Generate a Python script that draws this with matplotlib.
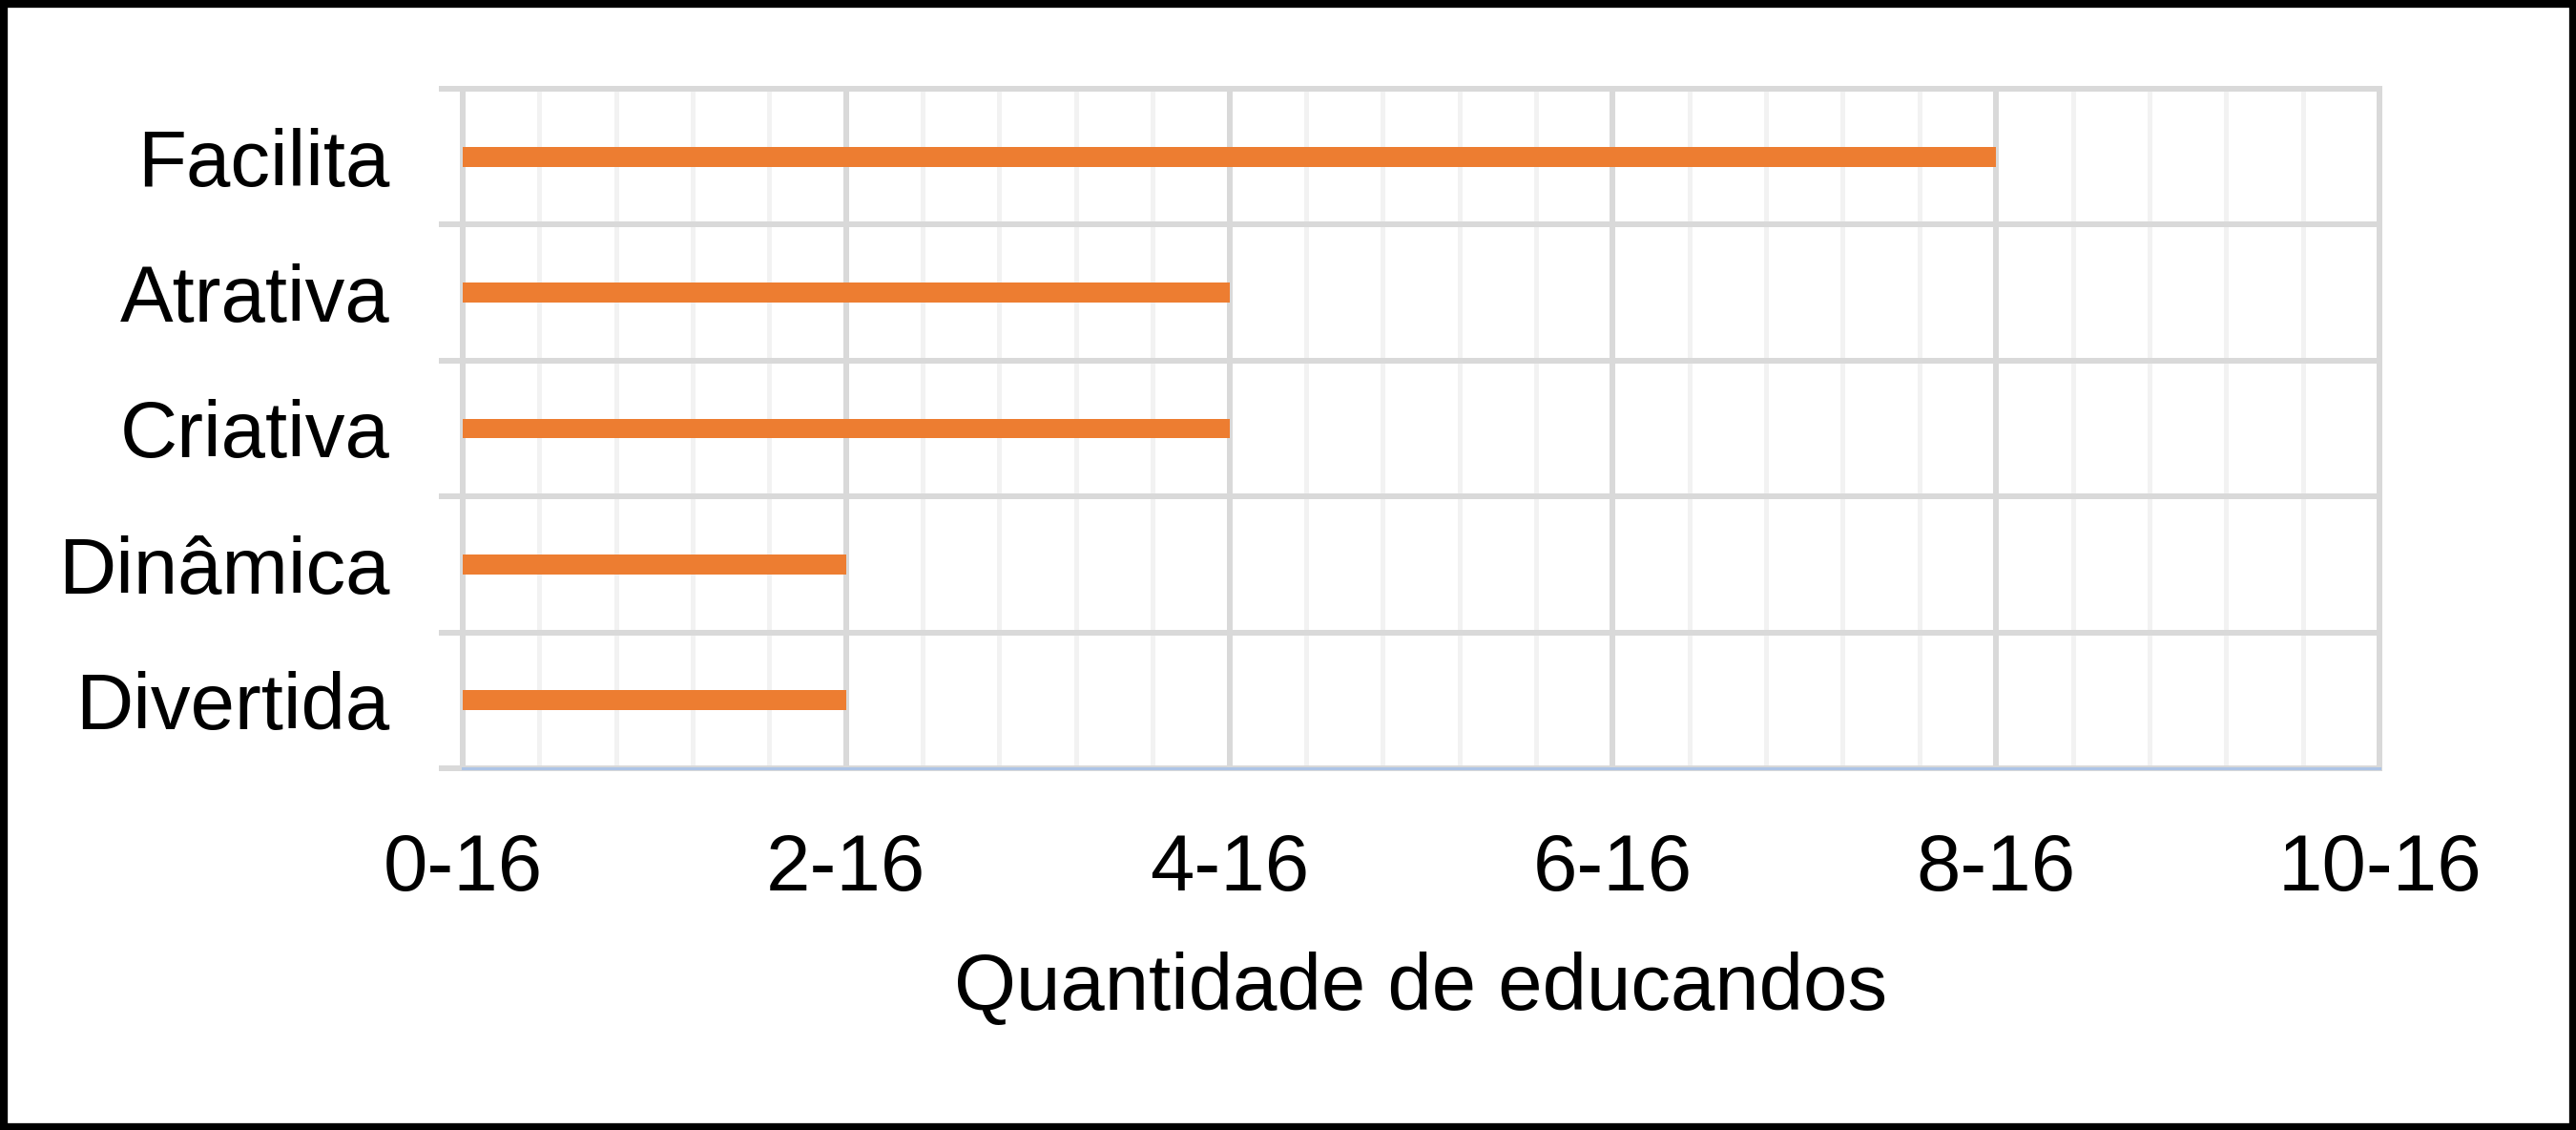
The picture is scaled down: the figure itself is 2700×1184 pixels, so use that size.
import numpy as np
import matplotlib
matplotlib.use('Agg')
import matplotlib.pyplot as plt
from matplotlib.patches import Rectangle
from matplotlib.ticker import MultipleLocator, FixedLocator

# Data (top to bottom, as shown)
categories = ['Facilita', 'Atrativa', 'Criativa', 'Dinâmica', 'Divertida']
counts = [8, 4, 4, 2, 2]
x_ticks = [0, 2, 4, 6, 8, 10]
x_tick_labels = ['0-16', '2-16', '4-16', '6-16', '8-16', '10-16']
x_label = 'Quantidade de educandos'

plt.rcParams['font.family'] = ['Liberation Sans', 'DejaVu Sans']

major_grey = '#d9d9d9'
minor_grey = '#f2f2f2'
bar_color = '#ed7d31'
axis_blue = '#adc4e6'

fig = plt.figure(figsize=(27, 11.84), dpi=100)
ax = fig.add_axes([0.1796, 0.3201, 0.9237 - 0.1796, 0.9215 - 0.3201])

n = len(categories)
ypos = np.arange(n)[::-1]  # first category at the top
ax.barh(ypos, counts, height=0.147, color=bar_color, zorder=3)

ax.set_xlim(0, 10)
ax.set_ylim(-0.5, n - 0.5)

# x axis: major and minor vertical gridlines
ax.xaxis.set_major_locator(FixedLocator(x_ticks))
ax.set_xticklabels(x_tick_labels)
ax.xaxis.set_minor_locator(MultipleLocator(0.4))
ax.grid(True, axis='x', which='major', color=major_grey, linewidth=4.3, zorder=1)
ax.grid(True, axis='x', which='minor', color=minor_grey, linewidth=3.6, zorder=0)
ax.tick_params(axis='x', which='both', length=0, labelsize=60, pad=48, colors='black')

# y axis: category labels at centres, separators at boundaries
ax.set_yticks(ypos)
ax.set_yticklabels(categories)
ax.yaxis.set_minor_locator(FixedLocator(np.arange(-0.5, n, 1.0)))
ax.grid(True, axis='y', which='minor', color=major_grey, linewidth=4.3, zorder=1)
ax.tick_params(axis='y', which='major', length=0, labelsize=60, pad=55)
ax.tick_params(axis='y', which='minor', length=18, width=4.3, color=major_grey, direction='out')

# keep the edge gridlines whole (not cut in half by the axes clip)
for t in ax.yaxis.get_minor_ticks() + ax.xaxis.get_major_ticks():
    t.gridline.set_clip_on(False)

for side in ['top', 'left', 'right']:
    ax.spines[side].set_visible(False)
ax.spines['bottom'].set_color(axis_blue)
ax.spines['bottom'].set_linewidth(2.2)
ax.spines['bottom'].set_zorder(4)

ax.set_xlabel(x_label, fontsize=60, labelpad=34)

# black frame around the whole picture
fig.patches.append(Rectangle((0, 0), 1, 1, transform=fig.transFigure,
                             fill=False, edgecolor='black', linewidth=11))

fig.savefig('out.png', dpi=100, facecolor='white')
